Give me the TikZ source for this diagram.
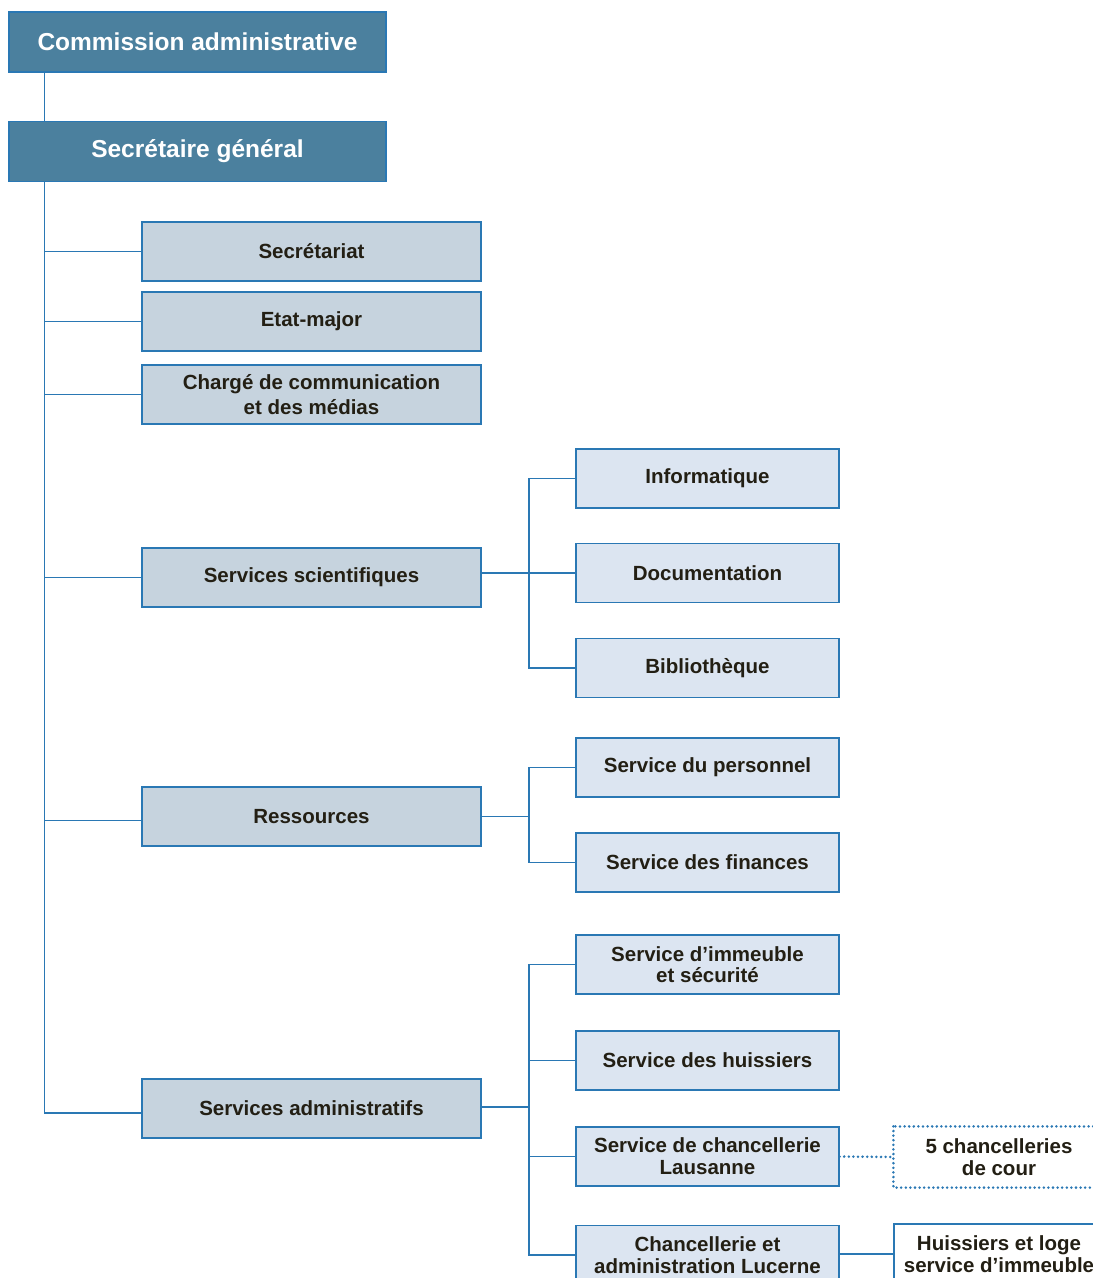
\documentclass[tikz,border=0pt]{standalone}
\usepackage{fontspec}
\setmainfont{Liberation Sans}
\definecolor{topfill}{HTML}{4B809E}
\definecolor{parfill}{HTML}{C6D3DE}
\definecolor{chfill}{HTML}{DCE5F1}
\definecolor{bord}{HTML}{2A78B4}
\definecolor{txt}{HTML}{231F14}
\tikzset{
  x=1pt, y=-1pt,
  base/.style={draw=bord, line width=1.2pt, inner sep=0pt, align=center, font=\fontsize{20.5}{23}\selectfont\bfseries, text=txt},
  topbox/.style={base, fill=topfill, text=white, minimum width=377pt, minimum height=60pt, font=\fontsize{24.5}{28}\selectfont\bfseries},
  parbox/.style={base, fill=parfill, minimum width=339pt, minimum height=59pt},
  chbox/.style={base, fill=chfill, minimum width=263pt, minimum height=59pt},
  farbox/.style={base, fill=white, minimum width=210pt, minimum height=60pt},
  dotbox/.style={farbox, draw=none},
  conn/.style={draw=bord, line width=1.2pt},
  dotconn/.style={draw=bord, line width=2.8pt, dash pattern=on 0pt off 4.6pt, line cap=round},
}
\begin{document}
\begin{tikzpicture}
\useasboundingbox (0,0) rectangle (1093,1278);
\clip (0,0) rectangle (1093,1278);
\fill[white] (0,0) rectangle (1093,1278);

\node[topbox] (com) at (197.5,42) {Commission administrative};
\node[topbox] (sg) at (197.5,151.5) {Secrétaire général};

\node[parbox] (sec) at (311.5,251.5) {Secrétariat};
\node[parbox] (etat) at (311.5,321.5) {Etat-major};
\node[parbox] (chg) at (311.5,394.5) {Chargé de communication\\[2pt]et des médias};
\node[parbox] (ss) at (311.5,577.5) {Services scientifiques};
\node[parbox] (res) at (311.5,816.5) {Ressources};
\node[parbox] (adm) at (311.5,1108.5) {Services administratifs};

\node[chbox] (inf) at (707.5,478.5) {Informatique};
\node[chbox] (doc) at (707.5,573) {Documentation};
\node[chbox] (bib) at (707.5,668) {Bibliothèque};
\node[chbox] (per) at (707.5,767.5) {Service du personnel};
\node[chbox] (fin) at (707.5,862.5) {Service des finances};
\node[chbox] (imm) at (707.5,964.5) {Service d’immeuble\\[-1.5pt]et sécurité};
\node[chbox] (hui) at (707.5,1060.5) {Service des huissiers};
\node[chbox] (lau) at (707.5,1156.5) {Service de chancellerie\\[-1pt]Lausanne};
\node[chbox] (luc) at (707.5,1255) {Chancellerie et\\[-1.5pt]administration Lucerne};

\node[dotbox] (cour) at (999,1157) {5 chancelleries\\[-1pt]de cour};
\draw[dotconn] (cour.north west) rectangle (cour.south east);
\node[farbox] (loge) at (999,1254) {Huissiers et loge\\[-1.5pt]service d’immeuble};

% trunk
\coordinate (trunk) at (45,181);
\draw[conn] ([xshift=36pt]com.south west) -- ([xshift=36pt]sg.north west);
\draw[conn] ([xshift=36pt]sg.south west) |- ([yshift=-4.5pt]adm.west);
\foreach \n in {sec,etat,chg,ss}
  \draw[conn] (\n.west) -- (\n.west -| trunk);
\draw[conn] ([yshift=-4pt]res.west) -- ([yshift=-4pt]res.west -| trunk);

% scientific branch
\coordinate (j1) at (529,573);
\draw[conn] (inf.west) -| (j1) |- (bib.west);
\draw[conn] (doc.west -| ss.east) -- (doc.west);

% resources branch
\coordinate (j2) at (529,816.5);
\draw[conn] (per.west) -| (j2) |- (fin.west);
\draw[conn] (res.east) -- (j2);

% admin branch
\coordinate (j3) at (529,1107);
\draw[conn] (imm.west) -| (j3) |- (luc.west);
\draw[conn] (hui.west) -- (hui.west -| j3);
\draw[conn] (lau.west) -- (lau.west -| j3);
\draw[conn] (adm.east |- j3) -- (j3);

\draw[dotconn] (lau.east) -- (cour.west);
\draw[conn] (luc.east |- loge.west) -- (loge.west);
\end{tikzpicture}
\end{document}
